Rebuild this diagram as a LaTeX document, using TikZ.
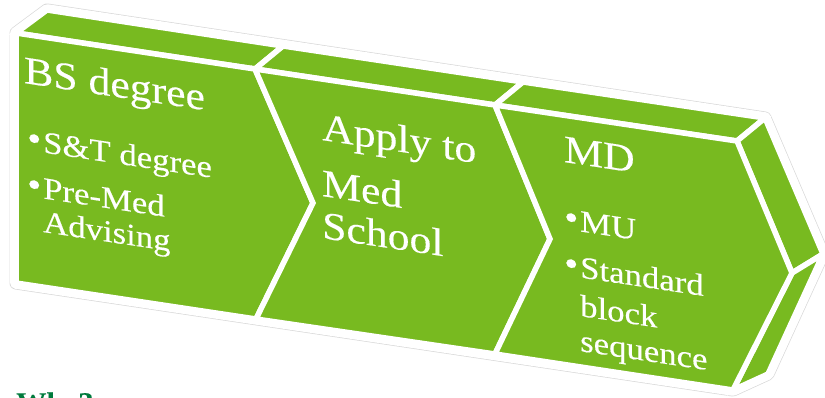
\documentclass[tikz,border=0pt]{standalone}
\usepackage{fontspec}
\setmainfont{Liberation Serif}[FakeStretch=1.12,FakeBold=0.35]
\definecolor{chev}{RGB}{120,186,32}
\definecolor{whygreen}{RGB}{0,122,61}
\newcommand{\bul}{\makebox[16pt][l]{\raisebox{0.5pt}{\fontsize{36}{36}\selectfont\textbullet}}}
\begin{document}
\begin{tikzpicture}[x=1pt,y=-1pt,
  face/.style={fill=chev, draw=white, line width=5.5pt, line join=miter},
  txt/.style={text=white, inner sep=0pt, anchor=base west, yslant=-0.15, transform shape},
  ttl/.style={txt, font=\fontsize{39}{39}\selectfont},
  itm/.style={txt, font=\fontsize{31}{31}\selectfont},
  halo/.style={line join=round}
]
\useasboundingbox (0,0) rectangle (825,397);
\clip (0,0) rectangle (825,397);
% front corners
\coordinate (F1) at (16,33);
\coordinate (F2) at (16,283);
\coordinate (T1) at (255,69);
\coordinate (T2) at (495,105);
\coordinate (T3) at (737,141);
\coordinate (P1) at (313,203);
\coordinate (P2) at (550,239);
\coordinate (P3) at (792,273);
\coordinate (B1) at (256,319);
\coordinate (B2) at (495,354);
\coordinate (B3) at (733,390);
% back corners
\coordinate (K0) at (47,10);
\coordinate (K1) at (283,46);
\coordinate (K2) at (523,82);
\coordinate (K3) at (765,118);
\coordinate (KP) at (823,254);
\coordinate (KB) at (768,374);
% outer halo
\draw[halo, gray!30, line width=13pt] (K0) -- (K3) -- (KP) -- (KB) -- (B3) -- (F2) -- (F1) -- cycle;
\draw[halo, white, line width=11.6pt] (K0) -- (K3) -- (KP) -- (KB) -- (B3) -- (F2) -- (F1) -- cycle;
% top faces
\draw[face] (F1) -- (K0) -- (K1) -- (T1) -- cycle;
\draw[face] (T1) -- (K1) -- (K2) -- (T2) -- cycle;
\draw[face] (T2) -- (K2) -- (K3) -- (T3) -- cycle;
% right side faces
\draw[face] (T3) -- (K3) -- (KP) -- (P3) -- cycle;
\draw[face] (P3) -- (KP) -- (KB) -- (B3) -- cycle;
% front chevrons
\draw[face] (F1) -- (T1) -- (P1) -- (B1) -- (F2) -- cycle;
\draw[face] (T1) -- (T2) -- (P2) -- (B2) -- (B1) -- (P1) -- cycle;
\draw[face] (T2) -- (T3) -- (P3) -- (B3) -- (B2) -- (P2) -- cycle;
% texts chevron 1
\node[ttl] (t1) at (24,83) {BS degree};
\node[itm] (t1a) at (27,150) {\bul S\&T degree};
\node[itm] (t1b) at (27,196) {\bul Pre-Med};
\node[itm] (t1c) at (43,232) {Advising};
% texts chevron 2
\node[ttl] (t2a) at (322,140) {Apply to};
\node[ttl] (t2b) at (322,196) {Med};
\node[ttl] (t2c) at (322,238) {School};
% texts chevron 3
\node[ttl] (t3) at (564,162) {MD};
\node[itm] (t3a) at (564,229) {\bul MU};
\node[itm] (t3b) at (564,275) {\bul Standard};
\node[itm] (t3c) at (580,316) {block};
\node[itm] (t3d) at (580,351) {sequence};
% bottom text (cut off)
\node[font=\bfseries\fontsize{27}{27}\selectfont, text=whygreen, anchor=base west, inner sep=0pt] (why) at (16,411) {Why?};
\end{tikzpicture}
\end{document}
